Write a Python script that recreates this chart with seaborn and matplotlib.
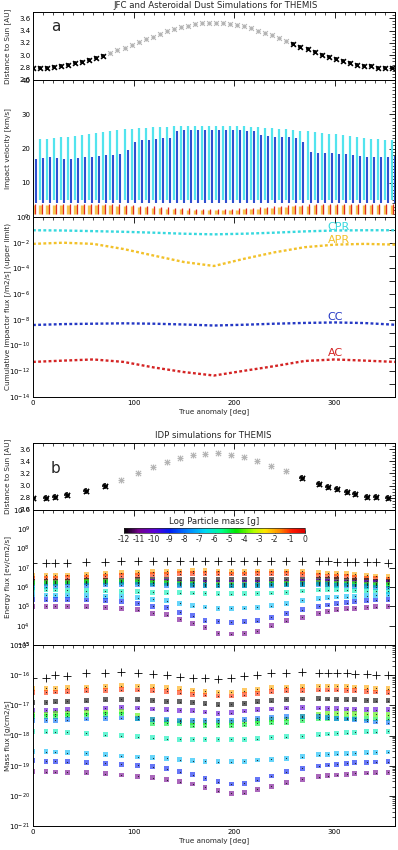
import numpy as np
import pandas as pd
import matplotlib
matplotlib.use("Agg")
import matplotlib.pyplot as plt
import seaborn as sns
from matplotlib.colors import LinearSegmentedColormap, Normalize
from matplotlib.ticker import MultipleLocator, FixedLocator, FuncFormatter, NullFormatter, LogLocator

# ---------------- panel a: JFC / asteroidal dust ----------------
anomaly_a = [0, 7, 14, 21, 28, 35, 42, 49, 56, 63, 70, 77, 84, 91, 98, 105, 112, 119, 126,
             133, 140, 147, 154, 161, 168, 175, 182, 189, 196, 203, 210, 217, 224, 231, 238,
             245, 252, 259, 266, 273, 280, 287, 294, 301, 308, 315, 322, 329, 336, 343, 350, 357]
distance_a = [2.79, 2.79, 2.80, 2.81, 2.82, 2.84, 2.87, 2.89, 2.92, 2.96, 2.99, 3.03, 3.08,
              3.12, 3.17, 3.21, 3.26, 3.30, 3.35, 3.39, 3.42, 3.46, 3.48, 3.50, 3.52, 3.53,
              3.53, 3.53, 3.51, 3.49, 3.47, 3.44, 3.40, 3.36, 3.32, 3.28, 3.23, 3.18, 3.14,
              3.10, 3.05, 3.01, 2.97, 2.94, 2.91, 2.88, 2.85, 2.83, 2.82, 2.80, 2.80, 2.79]
near_sun_a = [1, 1, 1, 1, 1, 1, 1, 1, 1, 1, 1, 0, 0, 0, 0, 0, 0, 0, 0, 0, 0, 0, 0, 0, 0, 0,
              0, 0, 0, 0, 0, 0, 0, 0, 0, 0, 0, 1, 1, 1, 1, 1, 1, 1, 1, 1, 1, 1, 1, 1, 1, 1]

# impact velocity ranges [km/s]
vel_cpr_top = [22.5, 22.7, 22.9, 23.1, 23.3, 23.5, 23.7, 23.9, 24.2, 24.5, 24.8, 25.1, 25.4,
               25.6, 25.8, 26.0, 26.1, 26.2, 26.3, 26.4, 26.5, 26.5, 26.6, 26.6, 26.6, 26.6,
               26.6, 26.6, 26.6, 26.5, 26.5, 26.4, 26.3, 26.1, 25.9, 25.8, 25.6, 25.4, 25.2,
               25.0, 24.8, 24.5, 24.3, 24.1, 23.9, 23.6, 23.4, 23.1, 22.9, 22.7, 22.6, 22.5]
vel_cc_top = [17.0, 17.2, 17.4, 17.3, 16.8, 16.9, 17.3, 17.4, 17.5, 17.8, 18.0, 18.1, 18.3,
              19.6, 22.0, 22.4, 22.6, 22.8, 23.0, 23.2, 25.0, 25.3, 25.3, 25.4, 25.5, 25.5,
              25.5, 25.5, 25.4, 25.3, 25.2, 25.0, 23.8, 23.6, 23.5, 23.4, 23.3, 23.0, 22.0,
              19.0, 18.8, 18.7, 18.6, 18.5, 18.4, 18.2, 17.8, 17.5, 17.4, 17.5, 17.6, 17.8]
vel_apr_top = [3.5, 3.5, 3.5, 3.5, 3.5, 3.5, 3.5, 3.5, 3.5, 3.5, 3.5, 3.4, 3.3, 3.2, 3.1, 2.9,
               2.8, 2.7, 2.5, 2.4, 2.3, 2.2, 2.1, 2.0, 1.9, 1.9, 1.9, 1.9, 2.0, 2.1, 2.2, 2.3,
               2.4, 2.6, 2.7, 2.8, 3.0, 3.1, 3.2, 3.3, 3.4, 3.5, 3.5, 3.5, 3.5, 3.5, 3.5, 3.5,
               3.5, 3.5, 3.5, 3.5]
vel_ac_top = [3.9, 3.9, 3.9, 3.9, 3.9, 3.9, 3.9, 3.9, 3.9, 3.9, 3.9, 3.8, 3.7, 3.6, 3.5, 3.3,
              3.2, 3.1, 2.9, 2.8, 2.7, 2.6, 2.5, 2.4, 2.3, 2.3, 2.3, 2.3, 2.4, 2.5, 2.6, 2.7,
              2.8, 3.0, 3.1, 3.2, 3.4, 3.5, 3.6, 3.7, 3.8, 3.9, 3.9, 3.9, 3.9, 3.9, 3.9, 3.9,
              3.9, 3.9, 3.9, 3.9]

# cumulative impactor flux, log10 [/m2/s]
anomaly_flux = [0, 30, 60, 90, 120, 150, 180, 210, 240, 270, 300, 330, 360]
log_flux_cpr = [-1.03, -1.05, -1.10, -1.15, -1.22, -1.30, -1.35, -1.30, -1.22, -1.12, -1.05, -1.03, -1.03]
log_flux_apr = [-2.09, -2.00, -2.09, -2.49, -3.00, -3.50, -3.81, -3.25, -2.75, -2.35, -2.15, -2.09, -2.15]
log_flux_cc = [-8.40, -8.33, -8.30, -8.27, -8.30, -8.36, -8.44, -8.38, -8.30, -8.24, -8.20, -8.25, -8.38]
log_flux_ac = [-11.27, -11.17, -11.08, -11.27, -11.70, -12.06, -12.33, -11.96, -11.60, -11.20, -11.08, -11.17, -11.27]

# ---------------- panel b: IDP ----------------
anomaly_b = [0, 13, 22, 34, 53, 72, 88, 104, 119, 133, 146, 159, 171, 184, 197, 210, 223,
             237, 252, 268, 284, 293, 302, 312, 320, 332, 341, 353]
distance_b = [2.79, 2.80, 2.81, 2.84, 2.91, 3.00, 3.10, 3.20, 3.30, 3.38, 3.45, 3.50, 3.52,
              3.53, 3.51, 3.47, 3.41, 3.33, 3.24, 3.13, 3.03, 2.98, 2.94, 2.89, 2.86, 2.82,
              2.81, 2.79]
near_sun_b = [1, 1, 1, 1, 1, 1, 0, 0, 0, 0, 0, 0, 0, 0, 0, 0, 0, 0, 0, 1, 1, 1, 1, 1, 1, 1, 1, 1]

# log10 energy flux [eV/cm2/s], total and per log-mass bin
energy_total = [7.26, 7.27, 7.27, 7.27, 7.29, 7.31, 7.33, 7.34, 7.34, 7.35, 7.35, 7.35, 7.35, 7.35,
                7.35, 7.35, 7.34, 7.34, 7.35, 7.35, 7.33, 7.33, 7.32, 7.32, 7.31, 7.30, 7.29, 7.27]
energy_m2 = [6.60, 6.61, 6.62, 6.63, 6.67, 6.71, 6.74, 6.77, 6.80, 6.82, 6.84, 6.86, 6.85, 6.84,
             6.83, 6.83, 6.84, 6.84, 6.84, 6.82, 6.75, 6.73, 6.71, 6.69, 6.66, 6.62, 6.58, 6.54]
energy_m1 = [6.45, 6.46, 6.47, 6.48, 6.52, 6.56, 6.59, 6.62, 6.65, 6.67, 6.69, 6.71, 6.70, 6.69,
             6.68, 6.68, 6.69, 6.69, 6.69, 6.67, 6.60, 6.58, 6.56, 6.54, 6.51, 6.47, 6.43, 6.39]
energy_m12 = [6.30, 6.31, 6.31, 6.32, 6.34, 6.36, 6.37, 6.38, 6.39, 6.39, 6.39, 6.39, 6.39, 6.38,
              6.38, 6.38, 6.39, 6.40, 6.40, 6.40, 6.40, 6.39, 6.38, 6.37, 6.35, 6.33, 6.32, 6.30]
energy_m10 = [6.22, 6.23, 6.23, 6.24, 6.26, 6.28, 6.29, 6.29, 6.29, 6.28, 6.27, 6.26, 6.25, 6.24,
              6.24, 6.24, 6.25, 6.26, 6.27, 6.28, 6.29, 6.28, 6.27, 6.26, 6.25, 6.24, 6.23, 6.22]
energy_m4 = [6.24, 6.25, 6.26, 6.27, 6.29, 6.30, 6.31, 6.29, 6.26, 6.23, 6.21, 6.19, 6.16, 6.14,
             6.14, 6.15, 6.16, 6.18, 6.20, 6.21, 6.22, 6.21, 6.20, 6.19, 6.18, 6.16, 6.15, 6.14]
energy_m5 = [6.18, 6.19, 6.20, 6.21, 6.23, 6.24, 6.25, 6.23, 6.20, 6.17, 6.15, 6.13, 6.10, 6.08,
             6.08, 6.09, 6.10, 6.12, 6.14, 6.15, 6.16, 6.15, 6.14, 6.13, 6.12, 6.10, 6.09, 6.08]
energy_m8 = [6.00, 6.02, 6.04, 6.06, 6.09, 6.11, 6.13, 6.12, 6.11, 6.10, 6.09, 6.08, 6.07, 6.06,
             6.06, 6.07, 6.08, 6.09, 6.11, 6.12, 6.13, 6.12, 6.10, 6.08, 6.05, 6.02, 5.99, 5.96]
energy_m6 = [5.87, 5.86, 5.85, 5.84, 5.82, 5.80, 5.78, 5.76, 5.74, 5.72, 5.71, 5.70, 5.68, 5.66,
             5.66, 5.67, 5.68, 5.70, 5.74, 5.80, 5.85, 5.86, 5.86, 5.85, 5.84, 5.82, 5.80, 5.78]
energy_m7 = [5.60, 5.59, 5.58, 5.57, 5.55, 5.53, 5.52, 5.45, 5.36, 5.30, 5.17, 5.03, 4.97, 4.91,
             4.90, 4.92, 4.95, 5.03, 5.14, 5.31, 5.40, 5.45, 5.49, 5.51, 5.52, 5.55, 5.58, 5.60]
energy_m9 = [5.35, 5.35, 5.35, 5.35, 5.33, 5.30, 5.26, 5.17, 5.00, 4.95, 4.69, 4.51, 4.27, 4.22,
             4.17, 4.20, 4.27, 4.44, 4.65, 4.83, 5.00, 5.07, 5.14, 5.20, 5.26, 5.30, 5.33, 5.35]
energy_m11 = [5.00, 5.00, 5.00, 5.00, 4.99, 4.96, 4.91, 4.83, 4.65, 4.57, 4.34, 4.13, 3.92, 3.61,
              3.57, 3.61, 3.70, 4.00, 4.25, 4.44, 4.65, 4.74, 4.83, 4.88, 4.91, 4.95, 4.98, 5.00]

# log10 mass flux [g/cm2/s], total and per log-mass bin
mass_total = [-16.08, -16.08, -16.00, -16.02, -15.94, -15.94, -15.91, -15.94, -15.97, -15.99,
              -16.05, -16.09, -16.11, -16.13, -16.09, -16.03, -15.98, -15.94, -15.94, -15.91,
              -15.94, -15.94, -15.94, -15.92, -15.96, -15.96, -15.98, -15.99]
mass_m2 = [-16.45, -16.44, -16.43, -16.42, -16.39, -16.37, -16.35, -16.36, -16.38, -16.41, -16.45,
           -16.50, -16.53, -16.56, -16.56, -16.52, -16.47, -16.42, -16.39, -16.38, -16.36, -16.36,
           -16.36, -16.37, -16.39, -16.41, -16.43, -16.45]
mass_m1 = [-16.58, -16.57, -16.56, -16.55, -16.52, -16.50, -16.48, -16.49, -16.51, -16.54, -16.58,
           -16.63, -16.66, -16.69, -16.69, -16.65, -16.60, -16.55, -16.52, -16.51, -16.49, -16.49,
           -16.49, -16.50, -16.52, -16.54, -16.56, -16.58]
mass_m12 = [-16.90, -16.90, -16.88, -16.87, -16.84, -16.82, -16.80, -16.81, -16.83, -16.86, -16.88,
            -16.90, -16.94, -16.98, -16.97, -16.93, -16.88, -16.84, -16.80, -16.79, -16.78, -16.79,
            -16.80, -16.81, -16.82, -16.83, -16.84, -16.85]
mass_m10 = [-17.18, -17.17, -17.16, -17.15, -17.12, -17.09, -17.07, -17.09, -17.12, -17.15, -17.17,
            -17.18, -17.22, -17.26, -17.24, -17.19, -17.15, -17.12, -17.09, -17.07, -17.09, -17.10,
            -17.11, -17.12, -17.13, -17.14, -17.14, -17.15]
mass_m4 = [-17.30, -17.29, -17.28, -17.27, -17.24, -17.22, -17.21, -17.35, -17.48, -17.50, -17.52,
           -17.57, -17.58, -17.58, -17.58, -17.55, -17.50, -17.47, -17.45, -17.38, -17.30, -17.28,
           -17.27, -17.27, -17.28, -17.29, -17.30, -17.31]
mass_m5 = [-17.38, -17.37, -17.36, -17.35, -17.32, -17.30, -17.29, -17.45, -17.60, -17.60, -17.60,
           -17.68, -17.68, -17.68, -17.68, -17.65, -17.60, -17.58, -17.57, -17.50, -17.45, -17.44,
           -17.43, -17.43, -17.43, -17.44, -17.45, -17.45]
mass_m8 = [-17.50, -17.50, -17.49, -17.48, -17.45, -17.43, -17.42, -17.44, -17.46, -17.48, -17.50,
           -17.50, -17.50, -17.50, -17.49, -17.46, -17.43, -17.40, -17.38, -17.37, -17.38, -17.40,
           -17.43, -17.45, -17.48, -17.52, -17.55, -17.57]
mass_m6 = [-17.86, -17.87, -17.88, -17.90, -17.93, -17.97, -18.00, -18.04, -18.07, -18.10, -18.12,
           -18.13, -18.13, -18.13, -18.13, -18.12, -18.10, -18.06, -18.04, -18.02, -17.97, -17.95,
           -17.93, -17.91, -17.90, -17.88, -17.87, -17.86]
mass_m7 = [-18.53, -18.54, -18.55, -18.57, -18.59, -18.63, -18.68, -18.71, -18.74, -18.76, -18.80,
           -18.84, -18.86, -18.87, -18.87, -18.85, -18.81, -18.79, -18.76, -18.70, -18.64, -18.62,
           -18.61, -18.60, -18.59, -18.57, -18.56, -18.55]
mass_m9 = [-18.84, -18.85, -18.86, -18.87, -18.90, -18.92, -18.95, -18.99, -19.04, -19.10, -19.20,
           -19.30, -19.42, -19.53, -19.61, -19.58, -19.47, -19.34, -19.20, -19.09, -19.01, -18.98,
           -18.95, -18.92, -18.90, -18.89, -18.88, -18.87]
mass_m11 = [-19.20, -19.20, -19.21, -19.22, -19.23, -19.27, -19.31, -19.35, -19.40, -19.46, -19.53,
            -19.61, -19.72, -19.83, -19.92, -19.90, -19.79, -19.68, -19.56, -19.45, -19.36, -19.33,
            -19.31, -19.28, -19.25, -19.24, -19.23, -19.22]

bin_masses = [-2, -1, -12, -10, -4, -5, -8, -6, -7, -9, -11]
energy_bins = [energy_m2, energy_m1, energy_m12, energy_m10, energy_m4, energy_m5, energy_m8,
               energy_m6, energy_m7, energy_m9, energy_m11]
mass_bins = [mass_m2, mass_m1, mass_m12, mass_m10, mass_m4, mass_m5, mass_m8, mass_m6,
             mass_m7, mass_m9, mass_m11]

# ---------------- style ----------------
sns.set_theme(style="white")
plt.rcParams["font.family"] = ["DejaVu Sans"]
plt.rcParams["mathtext.default"] = "regular"
plt.rcParams["axes.unicode_minus"] = False

W, H = 398, 850
fig = plt.figure(figsize=(W / 100, H / 100), dpi=100)


def add_ax(top, bottom, left=33, right=395):
    return fig.add_axes([left / W, 1 - bottom / H, (right - left) / W, (bottom - top) / H])


def style_ax(ax, xlabels=False):
    ax.set_xlim(0, 360)
    ax.xaxis.set_major_locator(MultipleLocator(100))
    ax.xaxis.set_minor_locator(MultipleLocator(10))
    ax.tick_params(which="both", direction="in", top=True, right=True, labelsize=5, pad=2,
                   colors="black")
    ax.tick_params(which="major", length=4, width=0.6)
    ax.tick_params(which="minor", length=2, width=0.5)
    if not xlabels:
        ax.tick_params(axis="x", labelbottom=False)
    for sp in ax.spines.values():
        sp.set_linewidth(0.7)
        sp.set_color("black")
    ax.set_xlabel("")
    ax.yaxis.set_label_coords(-0.062, 0.5)


def pow10(v, pos, step=1):
    e = int(round(np.log10(v)))
    return r"$10^{%d}$" % e if e % step == 0 else ""


cmap = LinearSegmentedColormap.from_list("idl_rainbow", [
    (0.00, (0.0, 0.0, 0.0)), (0.08, (0.45, 0.0, 0.55)), (0.17, (0.35, 0.0, 0.85)),
    (0.25, (0.0, 0.1, 0.95)), (0.35, (0.0, 0.5, 1.0)), (0.45, (0.0, 0.85, 0.95)),
    (0.54, (0.0, 1.0, 0.55)), (0.62, (0.0, 0.9, 0.0)), (0.72, (0.7, 1.0, 0.0)),
    (0.78, (1.0, 0.9, 0.0)), (0.86, (1.0, 0.55, 0.0)), (0.93, (1.0, 0.1, 0.0)),
    (1.00, (0.85, 0.0, 0.0))])

GRAY = "#b4b4b4"


def distance_panel(ax, anomaly, dist, near, big):
    df = pd.DataFrame({"anomaly": anomaly, "dist": dist, "near": near})
    far = df[df["near"] == 0]
    close = df[df["near"] == 1]
    for mk in ["x", "+"]:
        sns.scatterplot(data=far, x="anomaly", y="dist", marker=mk, color=GRAY, s=big,
                        linewidth=0.8, ax=ax, legend=False)
        sns.scatterplot(data=close, x="anomaly", y="dist", marker=mk, color="black", s=big,
                        linewidth=1.2, ax=ax, legend=False)
    ax.set_ylim(2.6, 3.7)
    ax.yaxis.set_major_locator(MultipleLocator(0.2))
    ax.yaxis.set_minor_locator(MultipleLocator(0.05))
    ax.yaxis.set_major_formatter(FuncFormatter(lambda v, p: "%.1f" % v))
    ax.set_ylabel("Distance to Sun [AU]", fontsize=5.2)


# ---------------- panel a ----------------
ax1 = add_ax(12, 80)
distance_panel(ax1, anomaly_a, distance_a, near_sun_a, 12)
style_ax(ax1)
ax1.text(0.05, 0.72, "a", transform=ax1.transAxes, fontsize=11)
fig.text(216 / W, 1 - 6 / H, "JFC and Asteroidal Dust Simulations for THEMIS", ha="center",
         va="center", fontsize=6.2)

ax2 = add_ax(80, 217)
xa = np.array(anomaly_a, dtype=float)
ax2.vlines(xa, 5.0, vel_cpr_top, color="#52e4ee", lw=1.6)
ax2.vlines(xa + 3, 4.2, vel_cc_top, color="#2f4fd0", lw=1.5)
ax2.vlines(xa, 0.8, vel_apr_top, color="#f7c451", lw=2.4)
ax2.vlines(xa + 1.5, 0.8, vel_ac_top, color="#e02a20", lw=0.9)
ax2.set_ylim(0, 40)
ax2.yaxis.set_major_locator(MultipleLocator(10))
ax2.yaxis.set_minor_locator(MultipleLocator(1))
ax2.set_ylabel("Impact velocity [km/s]", fontsize=5.2)
style_ax(ax2)

ax3 = add_ax(217, 397)
flux_df = pd.DataFrame({"anomaly": anomaly_flux,
                        "CPR": np.power(10.0, log_flux_cpr), "APR": np.power(10.0, log_flux_apr),
                        "CC": np.power(10.0, log_flux_cc), "AC": np.power(10.0, log_flux_ac)})
flux_colors = {"CPR": "#36d8de", "APR": "#f2c12a", "CC": "#2438c4", "AC": "#d42424"}
for name, col in flux_colors.items():
    sns.lineplot(data=flux_df, x="anomaly", y=name, color=col, lw=1.7, dashes=(1.2, 1.0), ax=ax3)
ax3.set_yscale("log")
ax3.set_ylim(1e-14, 1)
ax3.yaxis.set_major_locator(FixedLocator([10.0 ** e for e in range(-14, 1)]))
ax3.yaxis.set_major_formatter(FuncFormatter(lambda v, p: pow10(v, p, 2)))
ax3.yaxis.set_minor_locator(FixedLocator([]))
label_pos = {"CPR": 10 ** -0.8, "APR": 10 ** -1.8, "CC": 10 ** -7.8, "AC": 10 ** -10.6}
for name, yv in label_pos.items():
    ax3.text(293, yv, name, color=flux_colors[name], fontsize=8, va="center")
ax3.set_ylabel("Cumulative impactor flux [/m2/s] (upper limit)", fontsize=5.2)
style_ax(ax3, xlabels=True)
ax3.set_xlabel("True anomaly [deg]", fontsize=5.2, labelpad=2)

# ---------------- panel b ----------------
fig.text(213 / W, 1 - 436 / H, "IDP simulations for THEMIS", ha="center", va="center", fontsize=6.2)
bx1 = add_ax(443, 510)
distance_panel(bx1, anomaly_b, distance_b, near_sun_b, 14)
style_ax(bx1)
bx1.text(0.05, 0.55, "b", transform=bx1.transAxes, fontsize=11)

rows = []
for lm, ev, mv in zip(bin_masses, energy_bins, mass_bins):
    for a, e, m in zip(anomaly_b, ev, mv):
        rows.append({"anomaly": a, "log_mass": lm, "energy": 10.0 ** e, "mass": 10.0 ** m})
idp = pd.DataFrame(rows)
tot = pd.DataFrame({"anomaly": anomaly_b, "energy": np.power(10.0, energy_total),
                    "mass": np.power(10.0, mass_total)})

bx2 = add_ax(510, 645)
bx3 = add_ax(645, 826)
for ax, col in [(bx2, "energy"), (bx3, "mass")]:
    ax.set_yscale("log")
    sns.scatterplot(data=idp, x="anomaly", y=col, hue="log_mass", palette=cmap, hue_norm=(-12, 0),
                    marker="s", s=12, linewidth=0, alpha=0.6, legend=False, ax=ax)
    sns.scatterplot(data=idp, x="anomaly", y=col, color="#222222", marker=".", s=3, linewidth=0,
                    legend=False, ax=ax)
    sns.scatterplot(data=tot, x="anomaly", y=col, color="black", marker="+", s=38, linewidth=0.6,
                    legend=False, ax=ax)

bx2.set_ylim(1e3, 1e10)
bx2.yaxis.set_major_locator(FixedLocator([10.0 ** e for e in range(3, 11)]))
bx2.yaxis.set_major_formatter(FuncFormatter(pow10))
bx2.yaxis.set_minor_locator(FixedLocator([]))
bx2.set_ylabel("Energy flux [ev/cm2/s]", fontsize=5.2)
style_ax(bx2)

bx3.set_ylim(1e-21, 1e-15)
bx3.yaxis.set_major_locator(FixedLocator([10.0 ** e for e in range(-21, -14)]))
bx3.yaxis.set_major_formatter(FuncFormatter(pow10))
bx3.yaxis.set_minor_locator(LogLocator(base=10, subs=np.arange(2, 10), numticks=20))
bx3.yaxis.set_minor_formatter(NullFormatter())
bx3.set_ylabel("Mass flux [g/cm2/s]", fontsize=5.2)
style_ax(bx3, xlabels=True)
bx3.set_xlabel("True anomaly [deg]", fontsize=5.2, labelpad=2)

# colour bar for particle mass
cax = fig.add_axes([124 / W, 1 - 533 / H, 181 / W, 5 / H])
sm = plt.cm.ScalarMappable(norm=Normalize(-12, 0), cmap=cmap)
cb = fig.colorbar(sm, cax=cax, orientation="horizontal")
cb.set_ticks(list(range(-12, 1)))
cb.ax.tick_params(labelsize=5.5, length=2, width=0.5, pad=1.5, direction="in")
cb.outline.set_linewidth(0.5)
fig.text(214 / W, 1 - 522 / H, "Log Particle mass [g]", ha="center", va="center", fontsize=6.2)

fig.savefig("out.png", dpi=100)
